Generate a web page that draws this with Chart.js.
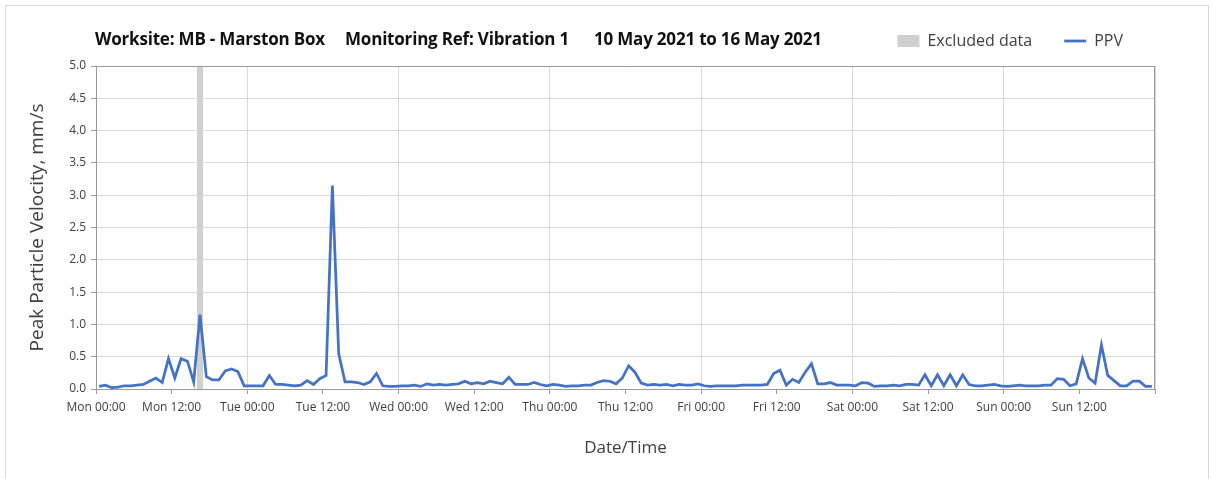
<!DOCTYPE html>
<html>
<head>
<meta charset="utf-8">
<script src="https://cdn.jsdelivr.net/npm/chart.js@4.4.0/dist/chart.umd.min.js"></script>
<style>
body { margin: 0; background: #fff; }
#wrap { position: relative; width: 1213px; height: 479px; overflow: hidden; }
#frame { position: absolute; left: 5px; top: 5px; width: 1202px; height: 500px; border: 1px solid #d9d9d9; }
.ttl { position: absolute; top: 27px; font: bold 17px "Open Sans"; letter-spacing: -0.2px; color: #111; white-space: nowrap; }
canvas { position: absolute; left: 0; top: 0; }
</style>
</head>
<body>
<div id="wrap">
	<div id="frame"></div>
	<canvas id="mycanvas" width="1213" height="479"></canvas>
	<div class="ttl" style="left:95px">Worksite: MB - Marston Box</div>
	<div class="ttl" style="left:345px">Monitoring Ref: Vibration 1</div>
	<div class="ttl" style="left:594px">10 May 2021 to 16 May 2021</div>
</div>
<script>
// hourly PPV, mm/s, Mon 10 May 00:00 -> Sun 16 May 23:00
var ppv = [
	0.04, 0.06, 0.02, 0.03, 0.05, 0.05, 0.06, 0.07, 0.12, 0.17,
	0.10, 0.47, 0.17, 0.47, 0.43, 0.11, 1.15, 0.19, 0.14, 0.14,
	0.28, 0.31, 0.27, 0.05, 0.05, 0.05, 0.05, 0.21, 0.07, 0.07,
	0.06, 0.05, 0.06, 0.13, 0.07, 0.16, 0.21, 3.15, 0.55, 0.11,
	0.11, 0.10, 0.07, 0.11, 0.24, 0.05, 0.04, 0.04, 0.05, 0.05,
	0.06, 0.04, 0.08, 0.06, 0.07, 0.06, 0.07, 0.08, 0.12, 0.08,
	0.10, 0.08, 0.12, 0.10, 0.08, 0.18, 0.07, 0.07, 0.07, 0.10,
	0.07, 0.05, 0.07, 0.06, 0.04, 0.05, 0.05, 0.06, 0.06, 0.10,
	0.13, 0.12, 0.08, 0.17, 0.36, 0.26, 0.09, 0.06, 0.07, 0.06,
	0.07, 0.05, 0.07, 0.06, 0.06, 0.08, 0.05, 0.04, 0.05, 0.05,
	0.05, 0.05, 0.06, 0.06, 0.06, 0.06, 0.07, 0.24, 0.29, 0.06,
	0.15, 0.10, 0.26, 0.39, 0.08, 0.08, 0.10, 0.06, 0.06, 0.06,
	0.05, 0.10, 0.09, 0.04, 0.05, 0.05, 0.06, 0.05, 0.07, 0.07,
	0.06, 0.22, 0.05, 0.22, 0.05, 0.22, 0.05, 0.22, 0.07, 0.05,
	0.05, 0.06, 0.07, 0.05, 0.04, 0.05, 0.06, 0.05, 0.05, 0.05,
	0.06, 0.06, 0.16, 0.15, 0.05, 0.08, 0.47, 0.17, 0.09, 0.68,
	0.21, 0.13, 0.05, 0.05, 0.12, 0.12, 0.04, 0.04
];

// excluded period (hours from Mon 00:00)
var excludedFrom = 16;
var excludedTo = 17;

var tickLabels = [
	'Mon 00:00', 'Mon 12:00', 'Tue 00:00', 'Tue 12:00', 'Wed 00:00', 'Wed 12:00', 'Thu 00:00',
	'Thu 12:00', 'Fri 00:00', 'Fri 12:00', 'Sat 00:00', 'Sat 12:00', 'Sun 00:00', 'Sun 12:00'
];

var yMax = 5;
var axisGrey = '#9a9a9a';
var gridGrey = '#d9d9d9';
var textCol = '#404040';

// each hourly value sits in the middle of its hour
var ppvPoints = [];
for (var i in ppv) {
	ppvPoints.push({ x: Number(i) + 0.5, y: ppv[i] });
}

var frameBorder = {
	id: 'frameBorder',
	afterDraw: function(chart) {
		var a = chart.chartArea;
		var c = chart.ctx;
		c.save();
		c.strokeStyle = axisGrey;
		c.lineWidth = 1;
		c.beginPath();
		c.moveTo(Math.round(a.left) + 0.5, Math.round(a.top) + 0.5);
		c.lineTo(Math.round(a.right) - 0.5, Math.round(a.top) + 0.5);
		c.lineTo(Math.round(a.right) - 0.5, Math.round(a.bottom));
		c.stroke();
		c.restore();
	}
};

var chartdata = {
	datasets: [
		{
			label: 'Excluded data',
			data: [{ x: excludedFrom, y: yMax }, { x: excludedTo, y: yMax }],
			backgroundColor: '#d0d0d0',
			borderColor: '#d0d0d0',
			borderWidth: 0,
			pointRadius: 0,
			pointStyle: 'rect',
			fill: 'origin'
		},
		{
			label: 'PPV',
			data: ppvPoints,
			borderColor: '#4472C4',
			backgroundColor: '#4472C4',
			borderWidth: 2.75,
			pointRadius: 0,
			pointStyle: 'line',
			tension: 0,
			fill: false
		}
	]
};

var ctx = document.getElementById('mycanvas');

var lineGraph = new Chart(ctx, {
	type: 'line',
	data: chartdata,
	plugins: [frameBorder],
	options: {
		responsive: false,
		animation: false,
		layout: { padding: { left: 0, right: 58, top: 1, bottom: 0 } },
		plugins: {
			filler: { drawTime: 'beforeDatasetsDraw' },
			tooltip: { enabled: false },
			legend: {
				position: 'top',
				align: 'end',
				labels: {
					usePointStyle: true,
					pointStyleWidth: 22,
					boxHeight: 12,
					padding: 32,
					color: textCol,
					font: { family: 'Open Sans', size: 16 }
				}
			},
			subtitle: {
				display: true,
				text: '',
				weight: 100,
				padding: 0,
				font: { size: 7, lineHeight: 1 }
			}
		},
		scales: {
			x: {
				type: 'linear',
				min: 0,
				max: 168,
				afterFit: function(scale) { scale.height = 90; },
				ticks: {
					stepSize: 12,
					autoSkip: false,
					maxRotation: 0,
					padding: 6,
					color: textCol,
					font: { family: 'Open Sans', size: 12 },
					callback: function(v) { return tickLabels[v / 12] || ''; }
				},
				grid: {
					color: function(c) { return c.tick && c.tick.value % 24 === 0 ? gridGrey : 'rgba(0,0,0,0)'; },
					tickColor: axisGrey,
					tickLength: 5
				},
				border: { color: axisGrey },
				title: {
					display: true,
					text: 'Date/Time',
					color: textCol,
					font: { family: 'Open Sans', size: 17 },
					padding: { top: 0, bottom: 21 }
				}
			},
			y: {
				min: 0,
				max: yMax,
				afterFit: function(scale) { scale.width = 96; },
				ticks: {
					stepSize: 0.5,
					padding: 5,
					color: textCol,
					font: { family: 'Open Sans', size: 12 },
					callback: function(v) { return v.toFixed(1); }
				},
				grid: {
					color: gridGrey,
					tickColor: axisGrey,
					tickLength: 5
				},
				border: { color: axisGrey },
				title: {
					display: true,
					text: 'Peak Particle Velocity, mm/s',
					color: textCol,
					font: { family: 'Open Sans', size: 19 },
					padding: { top: 26, bottom: 0 }
				}
			}
		}
	}
});
</script>
</body>
</html>
